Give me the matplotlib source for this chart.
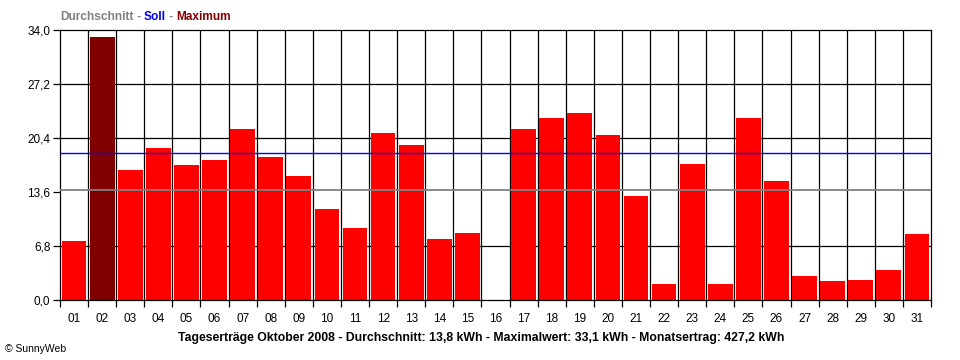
import matplotlib.pyplot as plt
import numpy as np

plt.rcParams['font.family'] = ['Liberation Sans', 'DejaVu Sans']

days = ['%02d' % d for d in range(1, 32)]
ertrag = [7.4, 33.1, 16.4, 19.1, 17.0, 17.6, 21.5, 18.0, 15.6, 11.5,
          9.1, 21.0, 19.5, 7.7, 8.4, 0.0, 21.5, 22.9, 23.6, 20.8,
          13.1, 2.0, 17.1, 2.0, 22.9, 15.0, 3.0, 2.4, 2.5, 3.8, 8.3]
durchschnitt = 13.8
soll = 18.5
y_ticks = [0, 6.8, 13.6, 20.4, 27.2, 34.0]

fig = plt.figure(figsize=(9.6, 3.6), dpi=100)
ax = fig.add_axes([60/960, 60/360, 871/960, 270/360])

x = np.arange(len(days))
imax = int(np.argmax(ertrag))
colors = ['#800000' if i == imax else '#ff0000' for i in x]
ax.bar(x, ertrag, width=0.88, color=colors, zorder=2)

# grid: black, behind the bars (13.6 is covered by the average line)
for y in [6.8, 20.4, 27.2]:
    ax.axhline(y, color='black', lw=0.9, zorder=1)
for b in np.arange(0.5, len(days) - 0.5):
    ax.axvline(b, color='black', lw=0.9, zorder=1)

ax.axhline(soll, color='#0000ff', lw=1.0, zorder=3)
ax.axhline(durchschnitt, color='#808080', lw=1.3, zorder=3)

ax.set_xlim(-0.5, len(days) - 0.5)
ax.set_ylim(0, 34)
ax.set_xticks(np.arange(-0.5, len(days)), minor=False)
ax.set_xticklabels([])
ax.set_xticks(x, minor=True)
ax.set_xticklabels(days, minor=True)
ax.tick_params(axis='x', which='major', length=5, width=0.9, direction='out')
ax.tick_params(axis='x', which='minor', length=0, pad=9, labelsize=8.5)
ax.set_yticks(y_ticks)
ax.set_yticklabels([('%.1f' % v).replace('.', ',') for v in y_ticks])
ax.tick_params(axis='y', length=5, width=0.9, labelsize=8.5, pad=2)
for s in ax.spines.values():
    s.set_linewidth(0.9)

# legend-like title with coloured parts
renderer = fig.canvas.get_renderer()
xpos = 60 / 960
for txt, col in [('Durchschnitt', '#808080'), (' - ', '#808080'), ('Soll', '#0000ff'),
                 (' - ', '#808080'), ('Maximum', '#800000')]:
    t = fig.text(xpos, 1 - 17/360, txt, color=col, fontsize=8.6, fontweight='bold',
                 va='center', ha='left')
    bb = t.get_window_extent(renderer)
    xpos += bb.width / fig.bbox.width

fig.text(481/960, 1 - 338/360,
         'Tageserträge Oktober 2008 - Durchschnitt: 13,8 kWh - Maximalwert: 33,1 kWh - Monatsertrag: 427,2 kWh',
         ha='center', va='center', fontsize=8.8, fontweight='bold')
fig.text(5/960, 1 - 349/360, '© SunnyWeb', ha='left', va='center', fontsize=7.5)

fig.savefig('out.png', dpi=100)
